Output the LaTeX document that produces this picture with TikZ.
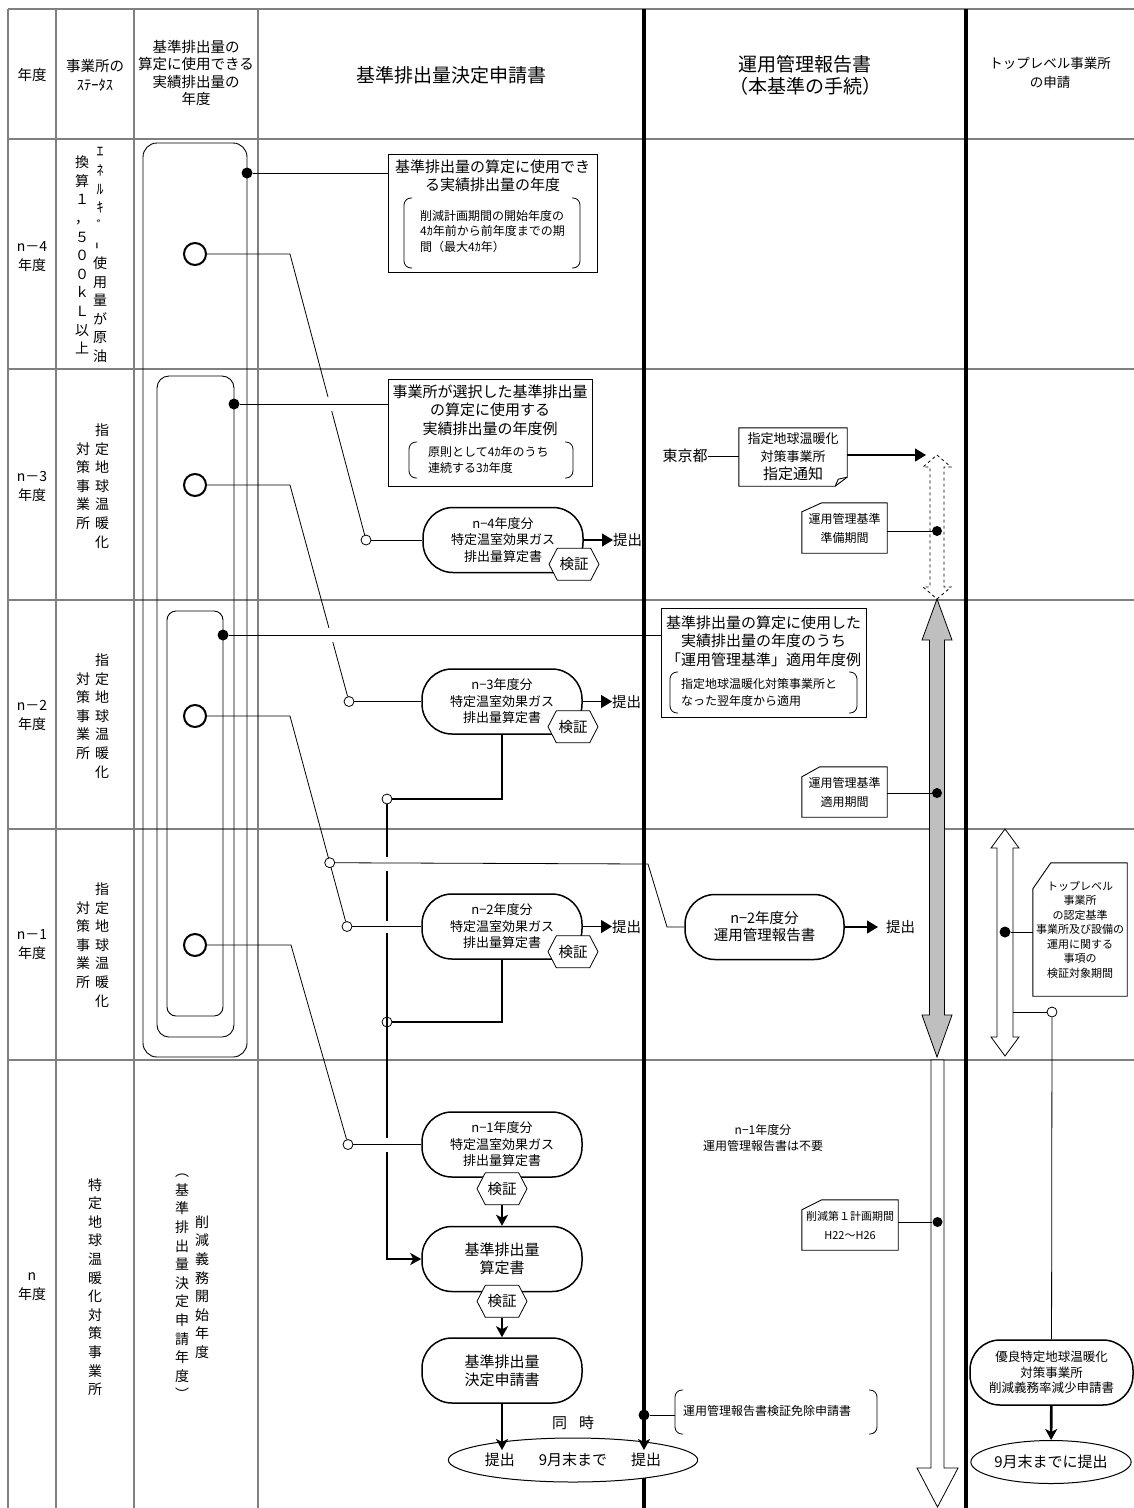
\documentclass[tikz,border=0pt]{standalone}
\usepackage{fontspec}
\setmainfont{Noto Sans CJK JP}
\usepackage{tikz}
\usetikzlibrary{arrows.meta,positioning,calc,fit,shapes.geometric,shapes.symbols}
\newcommand{\fsz}[2]{\fontsize{#1}{#2}\selectfont}

\begin{document}
\begin{tikzpicture}[
    x=1pt, y=-1pt, node distance=48pt,
    tline/.style={draw=gray, line width=1.3pt},
    lane/.style={draw=black, line width=3.2pt},
    head/.style={align=center, inner sep=0pt, font=\fsz{14.5}{17.5}},
    vtext/.style={align=center, inner sep=0pt, font=\fsz{14}{18.6}},
    txt/.style={align=center, inner sep=0pt},
    frame/.style={draw, line width=0.9pt},
    memo/.style={draw, line width=0.9pt, inner sep=0pt},
    doc/.style={draw, fill=white, line width=1.5pt, rounded corners=30pt, minimum width=160pt, minimum height=65pt, inner sep=0pt, align=center, font=\fsz{13}{16.5}},
    check/.style={signal, signal to=west and east, signal pointer angle=125, draw, fill=white, line width=0.8pt, minimum width=50pt, minimum height=32pt, inner sep=0pt, font=\fsz{14.5}{16}},
    pill/.style={ellipse, draw, fill=white, line width=1pt, inner sep=0pt, font=\fsz{15}{18}},
    brk/.style={line width=0.8pt, rounded corners=7pt},
    ring/.style={circle, draw, line width=2pt, fill=white, minimum size=22pt, inner sep=0pt},
    knot/.style={circle, draw, line width=0.8pt, fill=white, minimum size=10pt, inner sep=0pt},
    dot/.style={circle, fill=black, minimum size=11pt, inner sep=0pt},
    link/.style={line width=0.8pt},
    flow/.style={line width=2.6pt},
    flowarrow/.style={line width=2.6pt, -{Stealth[length=11pt, width=12pt, inset=3pt]}},
    push/.style={line width=1.2pt, -{Triangle[length=11pt, width=13pt]}},
    band/.style={draw, line width=0.8pt}
  ]
  \useasboundingbox (0,0) rectangle (1134,1508);

  \draw[tline] (8,9) -- (1134,9);
  \foreach \y in {139,369,600,829,1060}
    \draw[tline] (8,\y) -- (1134,\y);
  \foreach \x in {8,56,134,258}
    \draw[tline] (\x,9) -- (\x,1508);
  \draw[lane] (644,9) -- (644,1508);
  \draw[lane] (966,9) -- (966,1508);

  \node[head] (hYear) at (32,75) {年度};
  \node[head, font=\fsz{14.5}{19}] (hState) at (95,75) {事業所の\\ｽﾃｰﾀｽ};
  \node[head] (hBase) at (196,73) {基準排出量の\\算定に使用できる\\実績排出量の\\年度};
  \node[head, font=\fsz{19}{22}] (hApply) at (451,75) {基準排出量決定申請書};
  \node[head, font=\fsz{19}{22}] (hReport) at (805,75) {運用管理報告書\\（本基準の手続）};
  \node[head, font=\fsz{13.5}{19}] (hTop) at (1050,73) {トップレベル事業所\\の申請};

  \node[head, font=\fsz{14}{19}] (yA) at (32,257) {n－4\\年度};
  \node[head, font=\fsz{14}{19}] (yB) at (32,486) {n－3\\年度};
  \node[head, font=\fsz{14}{19}] (yC) at (32,715) {n－2\\年度};
  \node[head, font=\fsz{14}{19}] (yD) at (32,945) {n－1\\年度};
  \node[head, font=\fsz{14}{19}] (yE) at (32,1287) {n\\年度};

  \node[vtext] (sA1) at (100,255) {ｴ\\ﾈ\\ﾙ\\ｷ\\ﾞ\\\rotatebox{90}{ｰ}\\使\\用\\量\\が\\原\\油};
  \node[vtext] (sA2) at (82,255) {換\\算\\１\\，\\５\\０\\０\\ｋ\\Ｌ\\以\\上};
  \node[vtext] (sB1) at (102,486) {指\\定\\地\\球\\温\\暖\\化};
  \node[vtext] (sB2) at (83,486) {対\\策\\事\\業\\所};
  \node[vtext] (sC1) at (102,716) {指\\定\\地\\球\\温\\暖\\化};
  \node[vtext] (sC2) at (83,716) {対\\策\\事\\業\\所};
  \node[vtext] (sD1) at (102,945) {指\\定\\地\\球\\温\\暖\\化};
  \node[vtext] (sD2) at (83,945) {対\\策\\事\\業\\所};
  \node[vtext] (sE) at (95,1287) {特\\定\\地\\球\\温\\暖\\化\\対\\策\\事\\業\\所};
  \node[vtext] (pE1) at (202,1287) {削\\減\\義\\務\\開\\始\\年\\度};
  \node[vtext] (pE2) at (182,1287) {︵\\基\\準\\排\\出\\量\\決\\定\\申\\請\\年\\度\\︶};

  \draw[frame, rounded corners=14pt] (143,143) rectangle (247,1057);
  \draw[frame, rounded corners=12pt] (157,376) rectangle (234,1037);
  \draw[frame, rounded corners=9pt] (167,611) rectangle (223,1016);

  \node[memo, fit={(388,154) (597,272)}] (nA) {};
  \node[txt, font=\fsz{15}{18.3}] (nAt) at (492.5,176) {基準排出量の算定に使用でき\\る実績排出量の年度};
  \node[txt, align=left, anchor=west, font=\fsz{12}{15.5}] (nAs) at (420,231.5) {削減計画期間の開始年度の\\4ｶ年前から前年度までの期\\間（最大4ｶ年）};
  \draw[brk] (412,198) -- (404,198) -- (404,268) -- (412,268);
  \draw[brk] (572,198) -- (580,198) -- (580,268) -- (572,268);

  \node[memo, fit={(388,379) (592,486)}] (nB) {};
  \node[txt, font=\fsz{15}{18.3}] (nBt) at (490,410) {事業所が選択した基準排出量\\の算定に使用する\\実績排出量の年度例};
  \node[txt, align=left, anchor=west, font=\fsz{12}{15.5}] (nBs) at (428,460) {原則として4ｶ年のうち\\連続する3ｶ年度};
  \draw[brk] (417,442) -- (409,442) -- (409,478) -- (417,478);
  \draw[brk] (565,442) -- (573,442) -- (573,478) -- (565,478);

  \node[memo, fit={(661,608) (866,717)}] (nC) {};
  \node[txt, font=\fsz{15}{18.3}] (nCt) at (763.5,641) {基準排出量の算定に使用した\\実績排出量の年度のうち\\「運用管理基準」適用年度例};
  \node[txt, align=left, anchor=west, font=\fsz{12}{16.5}] (nCs) at (681,692.5) {指定地球温暖化対策事業所と\\なった翌年度から適用};
  \draw[brk] (678,672) -- (670,672) -- (670,713) -- (678,713);
  \draw[brk] (849,672) -- (857,672) -- (857,713) -- (849,713);

  \node[doc] (bxA) at (503,540) {n−4年度分\\特定温室効果ガス\\排出量算定書};
  \node[doc] (bxB) at (502,701.5) {n−3年度分\\特定温室効果ガス\\排出量算定書};
  \node[doc] (bxC) at (502,926.5) {n−2年度分\\特定温室効果ガス\\排出量算定書};
  \node[doc] (bxD) at (502,1144.5) {n−1年度分\\特定温室効果ガス\\排出量算定書};
  \node[doc, font=\fsz{15}{18}, below=of bxD] (bxSum) {基準排出量\\算定書};
  \node[doc, font=\fsz{15}{18}, below=45pt of bxSum] (bxFix) {基準排出量\\決定申請書};

  \node[txt, anchor=west, font=\fsz{14.5}{16}] (tA) at (613,540) {提出};
  \node[txt, anchor=west, font=\fsz{14.5}{16}] (tB) at (612,701.5) {提出};
  \node[txt, anchor=west, font=\fsz{14.5}{16}] (tC) at (612,926.5) {提出};
  \draw[push] (bxA.east) -- (tA.west);
  \draw[push] (bxB.east) -- (tB.west);
  \draw[push] (bxC.east) -- (tC.west);

  \node[dot] (dA) at (247,173) {};
  \node[dot] (dB) at (234,404) {};
  \node[dot] (dC) at (223,635) {};
  \node[ring] (cA) at (195,254) {};
  \node[ring] (cB) at (195,485) {};
  \node[ring] (cC) at (195,716) {};
  \node[ring] (cD) at (195,945) {};

  \coordinate (bA) at (290,254);
  \coordinate (bB) at (290,485);
  \coordinate (bC) at (290,716);
  \coordinate (bD) at (291,945);
  \node[knot] (kA) at (366,540) {};
  \node[knot] (kB) at (349,701.5) {};
  \node[knot] (kC) at (347,926.5) {};
  \node[knot] (kD) at (348,1144.5) {};
  \node[knot] (kE) at (387,799) {};
  \node[knot] (kF) at (387,1022) {};

  \draw[flow] (bxB.south) |- (kE);
  \draw[flow] (bxC.south) |- (kF);
  \draw[flowarrow] (kE) |- (bxSum.west);

  \draw[link] (cA) -- (bA) -- (kA);
  \draw[link] (cB) -- (bB) -- (kB);
  \draw[link] (cC) -- (bC) -- (kC);
  \draw[link] (cD) -- (bD) -- (kD);
  \node[knot] (kC1) at ($(bC)!0.697!(kC)$) {};

  \fill[white] (324,397) rectangle (336,411);
  \fill[white] (325,628) rectangle (337,642);
  \fill[white] (383,857) rectangle (391,871);
  \fill[white] (383,921) rectangle (391,933);
  \fill[white] (383,1138) rectangle (391,1152);

  \draw[link] (dA) -- (dA -| nA.west);
  \draw[link] (dB) -- (dB -| nB.west);
  \draw[link] (dC) -- (dC -| nC.west);
  \draw[link] (kA) -- (bxA);
  \draw[link] (kB) -- (bxB);
  \draw[link] (kC) -- (bxC);
  \draw[link] (kD) -- (bxD);

  \node[check] (vA) at ($(bxA.south)+(71,-9)$) {検証};
  \node[check] (vB) at ($(bxB.south)+(71,-8)$) {検証};
  \node[check] (vC) at ($(bxC.south)+(71,-8)$) {検証};
  \node[check] (vD) at ($(bxD.south)+(0,11)$) {検証};
  \node[check] (vS) at ($(bxSum.south)+(0,9)$) {検証};
  \draw[flowarrow] (vD) -- (bxSum);
  \draw[flowarrow] (vS) -- (bxFix);

  \node[pill, minimum width=207pt, minimum height=44pt] (sub) at (573,1460) {提出\hspace{24pt}9月末まで\hspace{24pt}提出};
  \node[txt, font=\fsz{15}{18}] (same) at (573,1423) {同\hspace{12pt}時};
  \node[dot] (dE) at (644,1415) {};
  \draw[flowarrow] (bxFix.south) -- ($(sub.center)+(-71,-10)$);
  \draw[flowarrow] (dE) -- ($(sub.center)+(71,-10)$);
  \node[txt, anchor=west, font=\fsz{12}{15}] (exempt) at (683,1411) {運用管理報告書検証免除申請書};
  \draw[brk] (683,1390) -- (675,1390) -- (675,1434) -- (683,1434);
  \draw[brk] (869,1390) -- (877,1390) -- (877,1434) -- (869,1434);
  \coordinate (exL) at (675,1415);
  \draw[link] (dE) -- (exL);

  \node[txt, font=\fsz{15}{18}] (tokyo) at (685,456) {東京都};
  \node[txt, minimum width=108pt, minimum height=58pt, font=\fsz{13}{18}] (notice) at (793,457) {指定地球温暖化\\対策事業所\\{\fsz{15}{18}指定通知}};
  \draw[frame] (notice.north west) -- (notice.north east) -- ($(notice.south east)+(0,-9)$) -- ($(notice.south east)+(-12,0)$) -- (notice.south west) -- cycle;
  \draw[frame] ($(notice.south east)+(-12,0)$) -- ($(notice.south east)+(-9,-7)$) -- ($(notice.south east)+(0,-9)$);
  \coordinate (dashTip) at (937,455);
  \draw[link] (tokyo) -- (notice.west |- tokyo);
  \draw[push, shorten >=11pt] (notice.east |- dashTip) -- (dashTip);

  \draw[band, dashed] (dashTip) -- (951,467) -- (944,467) -- (944,587) -- (951,587) -- (937,599) -- (923,587) -- (930,587) -- (930,467) -- (923,467) -- cycle;
  \draw[band, fill=gray!50] (937,599) -- (952,640) -- (944.5,640) -- (944.5,1015) -- (952,1015) -- (937,1057) -- (922,1015) -- (929.5,1015) -- (929.5,640) -- (922,640) -- cycle;
  \draw[band, fill=white] (931,1060) -- (944,1060) -- (944,1468) -- (958,1468) -- (937.5,1507) -- (917,1468) -- (931,1468) -- cycle;

  \node[dot, minimum size=10pt] (dP) at (937,531) {};
  \node[dot, minimum size=10pt] (dQ) at (937,793) {};
  \node[dot, minimum size=10pt] (dR) at (937.5,1222) {};

  \node[txt, minimum width=85pt, minimum height=50pt, font=\fsz{12}{19}] (prep) at (844.5,528) {運用管理基準\\準備期間};
  \draw[frame] ($(prep.north west)+(20,0)$) -- (prep.north east) -- (prep.south east) -- (prep.south west) -- ($(prep.north west)+(0,9)$) -- cycle;
  \draw[link] (prep.east |- dP) -- (dP);

  \node[txt, minimum width=85pt, minimum height=50pt, font=\fsz{12}{19}] (use) at (844.5,792) {運用管理基準\\適用期間};
  \draw[frame] ($(use.north west)+(18,0)$) -- (use.north east) -- (use.south east) -- (use.south west) -- ($(use.north west)+(0,10)$) -- cycle;
  \draw[link] (use.east |- dQ) -- (dQ);

  \node[txt, minimum width=96pt, minimum height=50pt, font=\fsz{11}{19}] (plan) at (850,1225) {削減第１計画期間\\H22〜H26};
  \draw[frame] ($(plan.north west)+(20,0)$) -- (plan.north east) -- (plan.south east) -- (plan.south west) -- ($(plan.north west)+(0,10)$) -- cycle;
  \draw[link] (plan.east |- dR) -- (dR);

  \node[doc, font=\fsz{14.5}{17}, minimum width=159pt] (bxR) at (764.5,927) {n−2年度分\\運用管理報告書};
  \node[txt, anchor=west, font=\fsz{14.5}{16}] (tR) at (886,927) {提出};
  \draw[push, shorten >=8pt] (bxR.east) -- (tR.west);
  \coordinate (jA) at (648,864);
  \coordinate (jB) at (667,927);
  \draw[link] (kC1) -- (jA) -- (jB) -- (bxR);
  \node[txt, font=\fsz{12}{16}] (noRep) at (763,1138) {n−1年度分\\運用管理報告書は不要};

  \draw[band, fill=white] (1005,829) -- (1019,848) -- (1013,848) -- (1013,1037) -- (1019,1037) -- (1005,1056) -- (991,1037) -- (997,1037) -- (997,848) -- (991,848) -- cycle;
  \node[dot] (dT) at (1005,932) {};
  \node[txt, minimum width=94pt, minimum height=133pt, font=\fsz{11}{14.5}] (pTop) at (1080,929.5) {トップレベル\\事業所\\の認定基準\\事業所及び設備の\\運用に関する\\事項の\\検証対象期間};
  \draw[frame] ($(pTop.north west)+(18,0)$) -- (pTop.north east) -- (pTop.south east) -- (pTop.south west) -- ($(pTop.north west)+(0,26)$) -- cycle;
  \draw[link] (dT) -- (pTop.west |- dT);
  \coordinate (tShaft) at (1013,1012);
  \node[knot] (kG) at (1052,1012) {};
  \draw[link] (tShaft) -- (kG);
  \node[doc, minimum width=163pt, font=\fsz{12.5}{15.5}] (bxGood) at (1051.5,1372.5) {優良特定地球温暖化\\対策事業所\\削減義務率減少申請書};
  \draw[link] (kG) -- (bxGood);
  \node[pill, minimum width=144pt, minimum height=43pt] (endGood) at (1051,1462) {9月末までに提出};
  \draw[flowarrow] (bxGood) -- (endGood);
\end{tikzpicture}
\end{document}
